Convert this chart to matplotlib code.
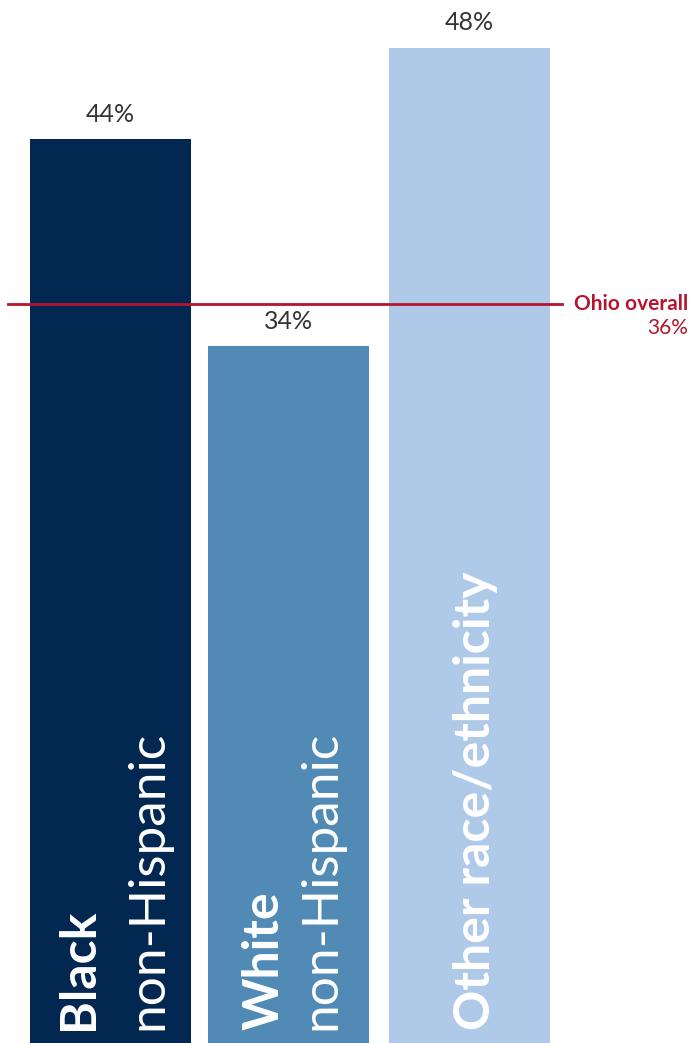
import matplotlib
matplotlib.use("Agg")
import matplotlib.pyplot as plt

groups = ["Black", "White", "Other race/ethnicity"]
subtitles = ["non-Hispanic", "non-Hispanic", ""]
values = [43.6, 33.6, 48.0]
labels = ["44%", "34%", "48%"]
ohio_value = 35.65
ohio_label = "36%"

colors = ["#022851", "#528AB6", "#AFC9E9"]
red = "#B5152F"
plt.rcParams['font.family'] = ['Lato', 'DejaVu Sans']

fig = plt.figure(figsize=(6.92, 10.43), dpi=100)
ax = fig.add_axes([0, 0, 1, 1])
x = [0, 0.99, 2]
ax.bar(x, values, width=0.897, color=colors)
ax.set_xlim(-0.616, 3.24)
ax.set_ylim(0, 50.3)
ax.axis('off')

# value labels above bars
for xi, v, lab in zip(x, values, labels):
    ax.annotate(lab, (xi, v), xytext=(0, 9.5), textcoords='offset points',
                ha='center', va='bottom', fontsize=18, color='#333333')

# rotated category labels (offsets in bar units)
bold_dx = [-0.097, -0.053, 0.114]
sub_dx = [0.287, 0.265, 0]
for xi, g, s, bdx, sdx in zip(x, groups, subtitles, bold_dx, sub_dx):
    ax.text(xi + bdx, 0.63, g, rotation=90, rotation_mode='anchor',
            ha='left', va='baseline', fontsize=36, fontweight='bold', color='white')
    if s:
        ax.text(xi + sdx, 0.63, s, rotation=90, rotation_mode='anchor',
                ha='left', va='baseline', fontsize=37, color='white')

# Ohio overall reference line
ax.axhline(ohio_value, xmin=0.0116, xmax=0.812, color=red, lw=2)
ax.text(0.994, ohio_value, "Ohio overall", transform=ax.get_yaxis_transform(),
        ha='right', va='center', fontsize=15, fontweight='bold', color=red)
ax.text(0.994, ohio_value - 1.15, ohio_label, transform=ax.get_yaxis_transform(),
        ha='right', va='center', fontsize=15, color=red)

fig.savefig("out.png", dpi=100)
